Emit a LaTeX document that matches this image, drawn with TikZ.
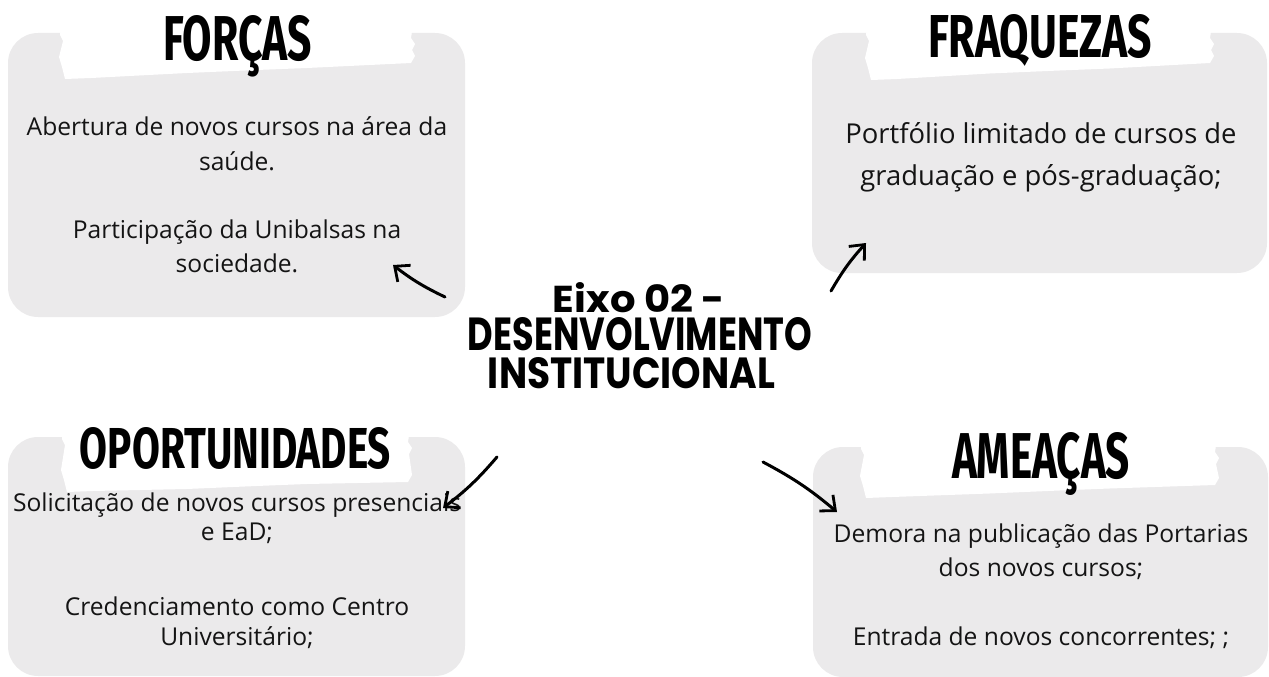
\documentclass[tikz,border=0pt]{standalone}
\usepackage{fontspec}
\setmainfont{Open Sans}
\newfontfamily\titlefont{Fira Sans}
\newfontfamily\centerfont{Poppins}
\usetikzlibrary{arrows.meta}
\definecolor{boxgray}{RGB}{235,234,235}
\definecolor{ink}{RGB}{20,20,20}
\newcommand\tornstrip[5]{%
  \fill[white] ({#1},{#3-8}) -- ({#2},{#3-8}) -- ({#2-2},{#3+5}) -- ({#2+2},{#3+11}) -- ({#2-1},{#3+17}) -- ({#2+2},{#5-7}) -- ({#2-2},{#5}) -- ({(#1+#2)/2+70},{(#4+#5)/2-3}) -- ({(#1+#2)/2+20},{(#4+#5)/2-1}) -- ({(#1+#2)/2-50},{(#4+#5)/2+2}) -- ({#1+30},{#4-1}) -- ({#1+4},{#4}) -- ({#1+1},{#4-12}) -- ({#1-2},{#4-22}) -- ({#1+2},{#3+8}) -- ({#1-1},{#3+2}) -- cycle;}
\newcommand\fitttl[3]{\resizebox{#1pt}{#2pt}{\titlefont\bfseries #3}}
\newcommand\fitctr[3]{\raisebox{0pt}[#2pt][0pt]{\resizebox{#1pt}{#2pt}{\centerfont\bfseries #3}}}
\tikzset{
  panel/.style={fill=boxgray, rounded corners=30pt},
  body/.style={anchor=base, inner sep=0pt, text=ink},
  ttl/.style={anchor=base, inner sep=0pt, text=black},
  arr/.style={line width=3pt, line cap=round, -{Straight Barb[length=12pt,width=21pt,line width=2.8pt]}},
}
\begin{document}
\begin{tikzpicture}[x=1pt,y=-1pt]
\useasboundingbox (0,0) rectangle (1269,677);
% panels
\fill[panel] (8,33) rectangle (465,317);
\fill[panel] (812,33) rectangle (1267,273);
\fill[panel] (8,437) rectangle (465,676);
\fill[panel] (813,447) rectangle (1268,677);
% torn white strips behind titles
\tornstrip{61}{413}{33}{79}{63}
\tornstrip{867}{1212}{33}{80}{63}
\tornstrip{63}{410}{437}{492}{482}
\tornstrip{862}{1217}{447}{498}{485}
% titles
\node[ttl] (tf) at (237.5,60) {\fitttl{149}{45}{FORÇAS}};
\node[ttl] (tw) at (1040,58) {\fitttl{224}{43}{FRAQUEZAS}};
\node[ttl] (to) at (235.5,468) {\fitttl{311}{41}{OPORTUNIDADES}};
\node[ttl] (tt) at (1041,478) {\fitttl{178}{46}{AMEAÇAS}};
% central title
\node[ttl] (c1) at (639,312) {\fitctr{172}{30}{Eixo 02 -}};
\node[ttl] (c2) at (640,350) {\fitctr{344}{33}{DESENVOLVIMENTO}};
\node[ttl] (c3) at (631.5,388) {\fitctr{287}{31}{INSTITUCIONAL}};
% body texts
\begin{scope}[font=\fontsize{24.6}{30}\selectfont]
\node[body] (f1) at (237,135) {Abertura de novos cursos na área da};
\node[body] (f2) at (237,170) {saúde.};
\node[body] (f3) at (237,238) {Participação da Unibalsas na};
\node[body] (f4) at (237,272) {sociedade.};
\node[body] (o1) at (237,511) {Solicitação de novos cursos presenciais};
\node[body] (o2) at (237,540) {e EaD;};
\node[body] (o3) at (237,615) {Credenciamento como Centro};
\node[body] (o4) at (237,645) {Universitário;};
\node[body] (a1) at (1041,542) {Demora na publicação das Portarias};
\node[body] (a2) at (1041,576) {dos novos cursos;};
\node[body] (a3) at (1041,645) {Entrada de novos concorrentes; ;};
\end{scope}
\begin{scope}[font=\fontsize{27.4}{32}\selectfont]
\node[body] (w1) at (1041,143) {Portfólio limitado de cursos de};
\node[body] (w2) at (1041,185) {graduação e pós-graduação;};
\end{scope}
% arrows
\coordinate (fS) at (445,297); \coordinate (fE) at (393,265);
\coordinate (wS) at (831,291); \coordinate (wE) at (866,243);
\coordinate (oS) at (497,457); \coordinate (oE) at (443,508);
\coordinate (aS) at (763,462); \coordinate (aE) at (837,512);
\draw[arr] (fS) to[bend left=6] (fE);
\draw[arr] (wS) to[bend left=6] (wE);
\draw[arr] (oS) to[bend left=6] (oE);
\draw[arr] (aS) to[bend left=6] (aE);
\end{tikzpicture}
\end{document}
